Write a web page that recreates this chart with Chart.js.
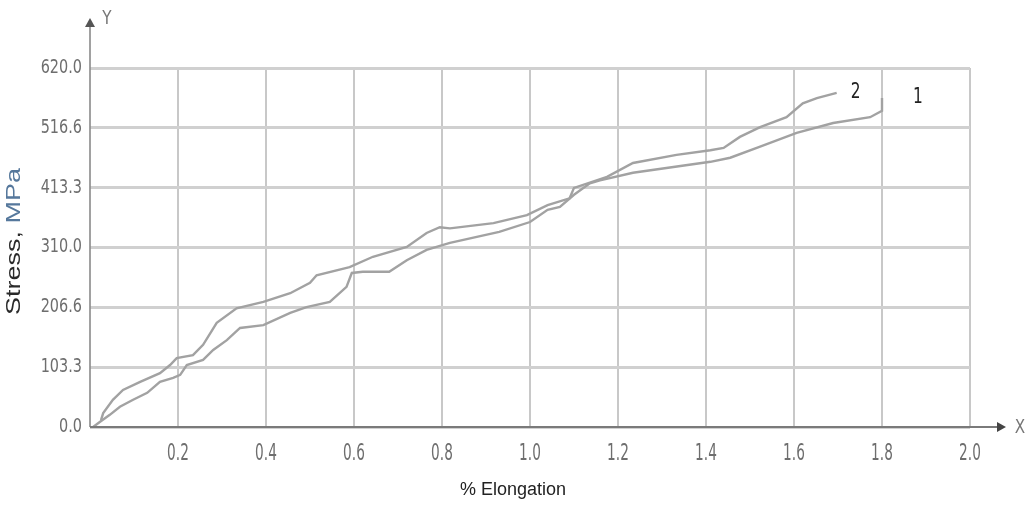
<!DOCTYPE html>
<html>
<head>
<meta charset="utf-8">
<script src="https://cdn.jsdelivr.net/npm/chart.js@4.4.1/dist/chart.umd.min.js"></script>
<style>
  html, body { margin: 0; padding: 0; background: #fff; }
  #wrap { width: 1028px; height: 507px; position: relative; }
</style>
</head>
<body>
<div id="wrap"><canvas id="c" width="1028" height="507"></canvas></div>
<script>
// ---- data ----
const xTickValues = [0.2, 0.4, 0.6, 0.8, 1.0, 1.2, 1.4, 1.6, 1.8, 2.0];
const yTickValues = [0, 103.3, 206.6, 310.0, 413.3, 516.6, 620.0];

const series1Label = '1';
const series1X = [0.007, 0.023, 0.045, 0.068, 0.098, 0.13, 0.159, 0.189, 0.205, 0.22, 0.257, 0.28, 0.311, 0.341, 0.394, 0.455, 0.492, 0.545, 0.583, 0.595, 0.62, 0.68, 0.72, 0.765, 0.818, 0.93, 1.0, 1.04, 1.068, 1.1, 1.136, 1.159, 1.234, 1.41, 1.455, 1.523, 1.606, 1.689, 1.773, 1.8, 1.8];
const series1Y = [0, 9, 21, 35, 47, 59, 78, 85, 90, 107, 116, 133, 150, 171, 176, 197, 207, 216, 242, 266, 268, 268, 288, 306, 318, 337, 354, 375, 380, 401, 421, 426, 439, 458, 465, 484, 508, 525, 535, 546, 568];

const series2Label = '2';
const series2X = [0.025, 0.03, 0.052, 0.075, 0.114, 0.159, 0.182, 0.197, 0.234, 0.257, 0.288, 0.333, 0.394, 0.455, 0.5, 0.515, 0.59, 0.643, 0.72, 0.765, 0.795, 0.818, 0.917, 0.993, 1.04, 1.09, 1.1, 1.175, 1.234, 1.333, 1.41, 1.44, 1.477, 1.523, 1.583, 1.62, 1.652, 1.697];
const series2Y = [12, 24, 47, 64, 78, 93, 107, 119, 124, 142, 180, 205, 216, 231, 249, 262, 276, 294, 311, 335, 345, 343, 352, 366, 383, 395, 413, 432, 456, 470, 478, 482, 501, 518, 535, 559, 568, 577];

const xTitle = '% Elongation';
const yTitleMain = 'Stress, ';
const yTitleUnit = 'MPa';

// ---- build ----
const toPts = (xs, ys) => xs.map((x, i) => ({ x: x, y: ys[i] }));
const tickFont = '"DejaVu Sans", sans-serif';

function narrowText(ctx, text, x, y, align, sx, sy) {
  ctx.save();
  ctx.translate(x, y);
  ctx.scale(sx, sy);
  ctx.textAlign = align;
  ctx.textBaseline = 'middle';
  ctx.fillText(text, 0, 0);
  ctx.restore();
}

const decorPlugin = {
  id: 'decor',
  afterDraw(chart) {
    const ctx = chart.ctx;
    const a = chart.chartArea;
    const xs = chart.scales.x, ys = chart.scales.y;
    const x0 = xs.getPixelForValue(0), y0 = ys.getPixelForValue(0);
    ctx.save();
    // Y axis with arrow
    ctx.strokeStyle = '#8a8a8a';
    ctx.lineWidth = 1.6;
    ctx.beginPath(); ctx.moveTo(x0, y0); ctx.lineTo(x0, a.top - 44); ctx.stroke();
    ctx.fillStyle = '#555';
    ctx.beginPath(); ctx.moveTo(x0, a.top - 50); ctx.lineTo(x0 - 5, a.top - 41); ctx.lineTo(x0 + 5, a.top - 41); ctx.closePath(); ctx.fill();
    // X axis with arrow
    ctx.strokeStyle = '#7a7a7a';
    ctx.lineWidth = 2;
    ctx.beginPath(); ctx.moveTo(x0, y0); ctx.lineTo(a.right + 30, y0); ctx.stroke();
    ctx.fillStyle = '#444';
    ctx.beginPath(); ctx.moveTo(a.right + 36, y0); ctx.lineTo(a.right + 27, y0 - 5); ctx.lineTo(a.right + 27, y0 + 5); ctx.closePath(); ctx.fill();

    // tick labels from the scales' own ticks (narrow, tall face like the reference)
    ctx.fillStyle = '#6e6e6e';
    ctx.font = '19px ' + tickFont;
    ys.ticks.forEach(t => {
      narrowText(ctx, t.value.toFixed(1), x0 - 8, ys.getPixelForValue(t.value), 'right', 0.76, 1.0);
    });
    xs.ticks.forEach(t => {
      narrowText(ctx, t.value.toFixed(1), xs.getPixelForValue(t.value), y0 + 27, 'center', 0.72, 1.2);
    });
    // axis letters
    ctx.fillStyle = '#777';
    narrowText(ctx, 'Y', x0 + 17, a.top - 49, 'center', 0.8, 1.05);
    narrowText(ctx, 'X', a.right + 50, y0 + 1, 'center', 0.8, 1.05);

    // X title
    ctx.fillStyle = '#222';
    ctx.font = '18px "Liberation Sans", Arial, sans-serif';
    narrowText(ctx, xTitle, (a.left + a.right) / 2 - 17, y0 + 63, 'center', 1.0, 1.0);

    // Y title, two colours, rotated
    ctx.font = '20px "Liberation Sans", Arial, sans-serif';
    const w1 = ctx.measureText(yTitleMain).width, w2 = ctx.measureText(yTitleUnit).width;
    const targetLen = 147;
    const sx = targetLen / (w1 + w2);
    ctx.translate(14, (a.top + a.bottom) / 2 - 6);
    ctx.rotate(-Math.PI / 2);
    ctx.scale(sx, 1);
    ctx.textAlign = 'left';
    ctx.textBaseline = 'middle';
    ctx.fillStyle = '#2a2a2a';
    ctx.fillText(yTitleMain, -(w1 + w2) / 2, 0);
    ctx.fillStyle = '#56789c';
    ctx.fillText(yTitleUnit, -(w1 + w2) / 2 + w1, 0);
    ctx.restore();

    // series labels next to curve ends
    ctx.save();
    ctx.font = '22px "DejaVu Sans", sans-serif';
    ctx.fillStyle = '#222';
    chart.data.datasets.forEach(ds => {
      const last = ds.data[ds.data.length - 1];
      narrowText(ctx, ds.label, xs.getPixelForValue(last.x) + ds.labelDx, ys.getPixelForValue(last.y) + ds.labelDy, 'center', 0.7, 1.0);
    });
    ctx.restore();
  }
};

new Chart(document.getElementById('c'), {
  type: 'scatter',
  data: {
    datasets: [
      { label: series1Label, data: toPts(series1X, series1Y), showLine: true, borderColor: '#a2a2a2', borderWidth: 2.4, pointRadius: 0, tension: 0, labelDx: 36, labelDy: -1 },
      { label: series2Label, data: toPts(series2X, series2Y), showLine: true, borderColor: '#a2a2a2', borderWidth: 2.4, pointRadius: 0, tension: 0, labelDx: 19, labelDy: -1 }
    ]
  },
  options: {
    responsive: false,
    animation: false,
    devicePixelRatio: 1,
    layout: { padding: { top: 68, right: 58, left: 0, bottom: 0 } },
    plugins: { legend: { display: false }, tooltip: { enabled: false } },
    scales: {
      x: {
        type: 'linear', min: 0, max: 2.0,
        afterBuildTicks: s => { s.ticks = xTickValues.map(v => ({ value: v })); },
        afterFit: s => { s.height = 80; },
        ticks: { display: false, autoSkip: false },
        grid: { color: '#c8c8c8', lineWidth: 2, drawTicks: false },
        border: { display: false },
        title: { display: false }
      },
      y: {
        type: 'linear', min: 0, max: 620,
        afterBuildTicks: s => { s.ticks = yTickValues.map(v => ({ value: v })); },
        afterFit: s => { s.width = 90; },
        ticks: { display: false, autoSkip: false },
        grid: { color: '#d0d0d0', lineWidth: 3, drawTicks: false },
        border: { display: false }
      }
    }
  },
  plugins: [decorPlugin]
});
</script>
</body>
</html>
